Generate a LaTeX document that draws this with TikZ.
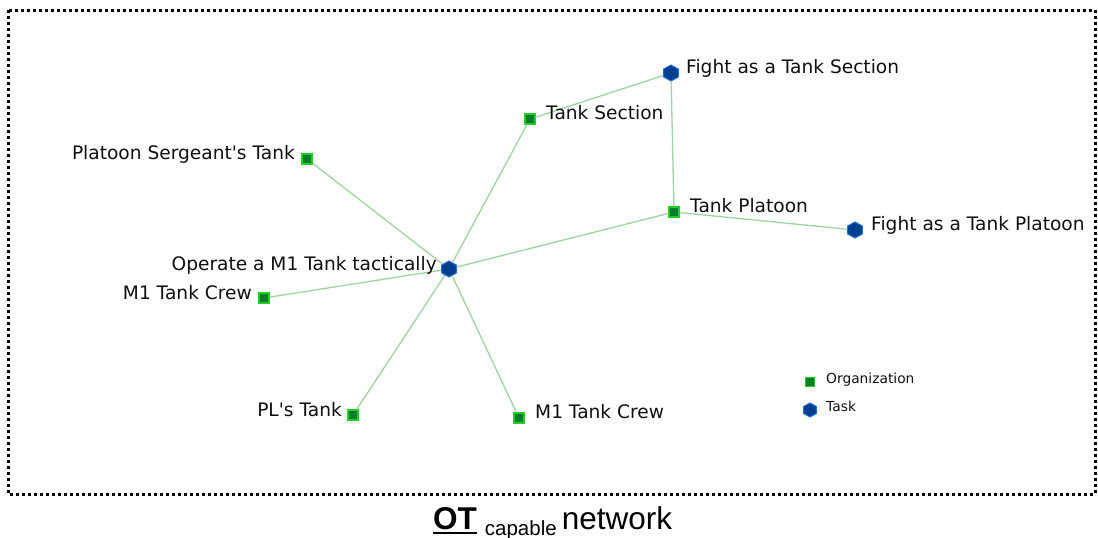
\documentclass[tikz,border=0pt]{standalone}
\usepackage{fontspec}
\setmainfont{DejaVu Sans}[Ligatures=TeXOff]
\newfontfamily\capfont{Liberation Sans}
\usetikzlibrary{shapes.geometric}
\definecolor{orgfill}{HTML}{007F2A}
\definecolor{orgline}{HTML}{22CC22}
\definecolor{taskfill}{HTML}{003F8F}
\definecolor{taskline}{HTML}{1E6FD6}
\definecolor{edgecol}{HTML}{9FD3A2}
\definecolor{txt}{HTML}{101010}
\tikzset{
  org/.style={rectangle, draw=orgline, fill=orgfill, line width=1.3pt, minimum size=10pt, inner sep=0pt},
  task/.style={regular polygon, regular polygon sides=6, shape border rotate=30, draw=taskline, fill=taskfill, line width=1pt, minimum size=16pt, inner sep=0pt, xscale=1.05},
  lblr/.style={anchor=base west, inner sep=0pt, text=txt, font=\fontsize{18.6}{20}\selectfont},
  lbll/.style={anchor=base east, inner sep=0pt, text=txt, font=\fontsize{18.6}{20}\selectfont},
  leg/.style={anchor=base west, inner sep=0pt, text=txt, font=\fontsize{13.8}{15}\selectfont},
  link/.style={draw=edgecol, line width=1.3pt},
  frame/.style={draw=black, line width=3pt, dash pattern=on 3pt off 3pt}
}
\begin{document}
\begin{tikzpicture}[x=1pt,y=-1pt]
\useasboundingbox (0,0) rectangle (1098,538);
\draw[frame] (8,10) rectangle (1095,494);

\node[task] (hub) at (449,269) {};
\node[task] (fts) at (671,73) {};
\node[org] (ts) at (530,119) {};
\node[org] (pst) at (307,159) {};
\node[org] (tp) at (674,212) {};
\node[task] (ftp) at (855,230) {};
\node[org] (crewl) at (264,298) {};
\node[org] (pl) at (353,415) {};
\node[org] (crewb) at (519,418) {};

\draw[link] (hub) -- (pst);
\draw[link] (hub) -- (ts);
\draw[link] (hub) -- (tp);
\draw[link] (hub) -- (crewl);
\draw[link] (hub) -- (pl);
\draw[link] (hub) -- (crewb);
\draw[link] (ts) -- (fts);
\draw[link] (fts) -- (tp);
\draw[link] (tp) -- (ftp);

\node[lbll] (hubl) at (437,270) {Operate a M1 Tank tactically};
\node[lblr] (ftsl) at (686,73) {Fight as a Tank Section};
\node[lblr] (tsl) at (546,119) {Tank Section};
\node[lbll] (pstl) at (295,159) {Platoon Sergeant's Tank};
\node[lblr] (tpl) at (690,212) {Tank Platoon};
\node[lblr] (ftpl) at (871,230) {Fight as a Tank Platoon};
\node[lbll] (crewll) at (252,299) {M1 Tank Crew};
\node[lbll] (pll) at (342,416) {PL's Tank};
\node[lblr] (crewbl) at (535,418) {M1 Tank Crew};

\node[org, minimum size=9pt] (legorg) at (810,382) {};
\node[leg] (legorgl) at (826,383) {Organization};
\node[task, minimum size=14pt] (legtask) at (810,410) {};
\node[leg] (legtaskl) at (826,411) {Task};

\node[anchor=base west, inner sep=0pt] (cap) at (433,529) {\capfont\fontsize{31.5}{33}\selectfont{\sbox0{\textbf{OT}}\rlap{\rule[-5pt]{\wd0}{2.5pt}}\usebox0}\hspace{8pt}{\fontsize{20.5}{22}\selectfont\raisebox{-6pt}{capable}}\hspace{5pt}network};
\end{tikzpicture}
\end{document}
